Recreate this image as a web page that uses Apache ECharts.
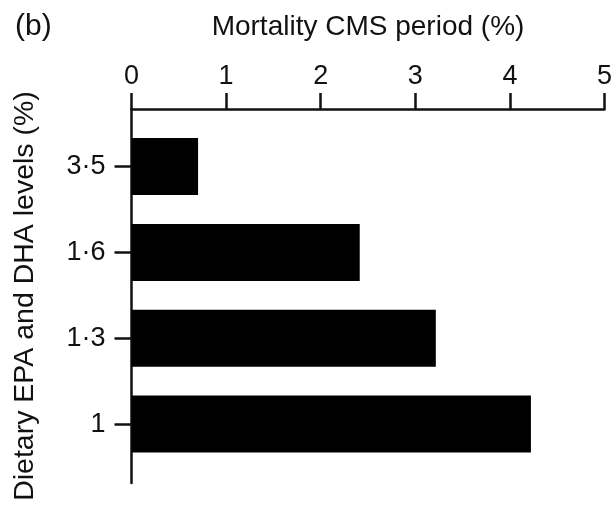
<!DOCTYPE html>
<html>
<head>
<meta charset="utf-8">
<script src="https://cdn.jsdelivr.net/npm/echarts@6/dist/echarts.min.js"></script>
<style>
html,body{margin:0;padding:0;background:#fff;}
#chart{width:615px;height:511px;}
</style>
</head>
<body>
<div id="chart"></div>
<script>
// Data
const categories = ['1', '1·3', '1·6', '3·5'];      // bottom to top
const mortality = [4.2, 3.2, 2.4, 0.7];             // Mortality CMS period (%)
const xTicks = [0, 1, 2, 3, 4, 5];
const panelLabel = '(b)';
const xTitle = 'Mortality CMS period (%)';
const yTitle = 'Dietary EPA and DHA levels (%)';

const FONT = 'Liberation Sans, Arial, Helvetica, sans-serif';
const INK = '#111';

const chart = echarts.init(document.getElementById('chart'), null, {renderer: 'canvas'});
chart.setOption({
  backgroundColor: '#fff',
  animation: false,
  title: {
    text: panelLabel,
    left: 10, top: 7,
    textStyle: {fontFamily: FONT, fontSize: 30, fontWeight: 'normal', color: INK}
  },
  grid: [
    {left: 131.5, right: 8, top: 109, bottom: 28, containLabel: false},
    {left: 131.5, right: 8, top: 123.6, bottom: 44, containLabel: false}
  ],
  xAxis: [
    {
      type: 'value', gridIndex: 0, position: 'top',
      min: xTicks[0], max: xTicks[xTicks.length - 1], interval: 1,
      name: xTitle, nameLocation: 'middle', nameGap: 68,
      nameTextStyle: {fontFamily: FONT, fontSize: 28, color: INK},
      axisLine: {show: true, onZero: false, lineStyle: {color: INK, width: 2.5}},
      axisTick: {show: true, inside: false, length: 16, lineStyle: {color: INK, width: 2.5}},
      axisLabel: {show: true, margin: 19, fontFamily: FONT, fontSize: 27, color: INK},
      splitLine: {show: false}
    },
    {
      type: 'value', gridIndex: 1, show: false,
      min: xTicks[0], max: xTicks[xTicks.length - 1]
    }
  ],
  yAxis: [
    {
      type: 'value', gridIndex: 0, min: 0, max: 1,
      name: yTitle, nameLocation: 'middle', nameGap: 92, nameRotate: 90,
      nameTextStyle: {fontFamily: FONT, fontSize: 28.5, color: INK},
      axisLine: {show: true, onZero: false, lineStyle: {color: INK, width: 2.5}},
      axisTick: {show: false}, axisLabel: {show: false}, splitLine: {show: false}
    },
    {
      type: 'category', gridIndex: 1, data: categories,
      axisLine: {show: false},
      axisTick: {show: true, alignWithLabel: true, inside: false, length: 17, lineStyle: {color: INK, width: 2.5}},
      axisLabel: {show: true, margin: 26, fontFamily: FONT, fontSize: 27, color: INK},
      splitLine: {show: false}
    }
  ],
  series: [{
    type: 'bar',
    xAxisIndex: 1, yAxisIndex: 1,
    data: mortality,
    barWidth: 57,
    itemStyle: {color: '#000'},
    silent: true
  }]
});
</script>
</body>
</html>
